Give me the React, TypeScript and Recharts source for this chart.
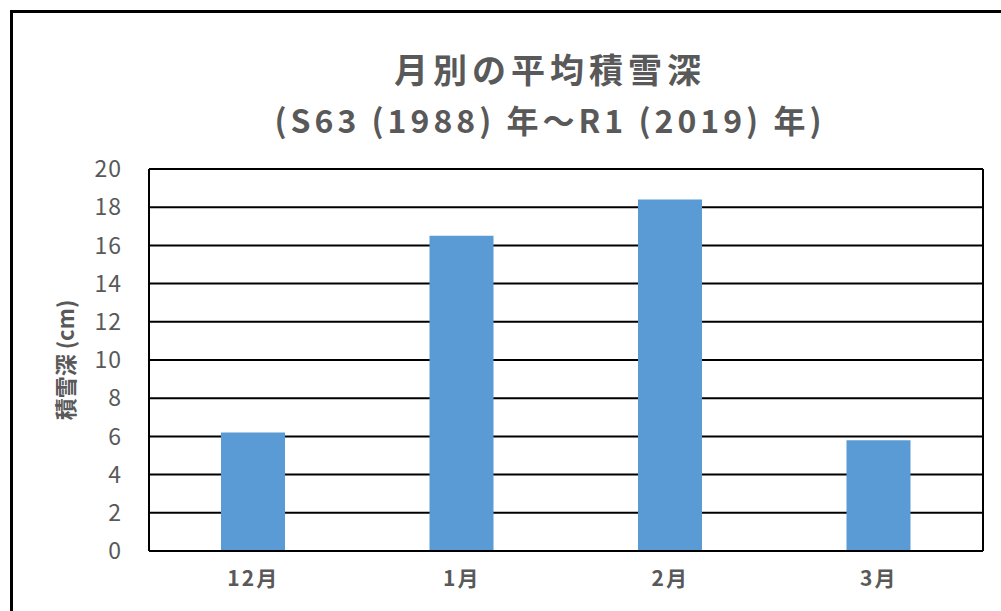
import { Bar, BarChart, CartesianGrid, XAxis, YAxis } from "recharts"

const months = ["12月", "1月", "2月", "3月"]
const snowDepth = [6.2, 16.5, 18.4, 5.8]
const yTicks = [0, 2, 4, 6, 8, 10, 12, 14, 16, 18, 20]

const data = months.map((m, i) => ({ month: m, depth: snowDepth[i] }))

const textColor = "#595959"
const jpFont = "'Noto Sans CJK JP', 'Noto Sans', sans-serif"

const YLabel = (props: any) => {
  const { viewBox } = props
  const cx = viewBox.x + 64
  const cy = viewBox.y + viewBox.height / 2
  return (
    <text
      x={cx}
      y={cy}
      transform={`rotate(-90, ${cx}, ${cy})`}
      textAnchor="middle"
      dominantBaseline="central"
      fill={textColor}
      fontSize={22}
      fontWeight="bold"
      fontFamily={jpFont}
    >
      積雪深 (cm)
    </text>
  )
}

// left + right edges of the plot box
const plotEdges = ({ offset }: any) => [offset.left, offset.left + offset.width]

export default function App() {
  return (
    <div
      style={{
        position: "absolute",
        left: 0,
        top: 0,
        width: 1001,
        height: 611,
        overflow: "hidden",
        background: "#fff",
        fontFamily: jpFont,
      }}
    >
      <div
        style={{
          position: "absolute",
          left: 10,
          top: 10,
          width: 1200,
          height: 800,
          border: "3px solid #000",
          boxSizing: "border-box",
        }}
      />
      <div
        style={{
          position: "absolute",
          left: 0,
          width: 1100,
          top: 44,
          textAlign: "center",
          color: textColor,
          fontWeight: "bold",
          lineHeight: "50px",
        }}
      >
        <div style={{ fontSize: 34, letterSpacing: 5 }}>月別の平均積雪深</div>
        <div style={{ fontSize: 32, letterSpacing: 4 }}>(S63 (1988) 年～R1 (2019) 年)</div>
      </div>
      <div style={{ position: "absolute", left: 0, top: 0 }}>
        <BarChart
          width={1001}
          height={611}
          data={data}
          margin={{ top: 169, right: 18, bottom: 0, left: 0 }}
          barSize={64}
        >
          <CartesianGrid
            stroke="#000"
            strokeWidth={2}
            verticalCoordinatesGenerator={plotEdges}
          />
          <XAxis
            dataKey="month"
            height={60}
            stroke="#000"
            strokeWidth={2}
            tickLine={false}
            tickSize={0}
            tickMargin={20}
            tick={{ fill: textColor, fontSize: 21, fontWeight: "bold", fontFamily: jpFont, letterSpacing: 2 }}
          />
          <YAxis
            width={149}
            domain={[0, 20]}
            ticks={yTicks}
            interval={0}
            stroke="#000"
            strokeWidth={2}
            tickLine={false}
            tickSize={0}
            tickMargin={27}
            tick={{ fill: textColor, fontSize: 23, fontFamily: jpFont, letterSpacing: 1 }}
            label={<YLabel />}
          />
          <Bar dataKey="depth" fill="#5B9BD5" isAnimationActive={false} />
        </BarChart>
      </div>
    </div>
  )
}
